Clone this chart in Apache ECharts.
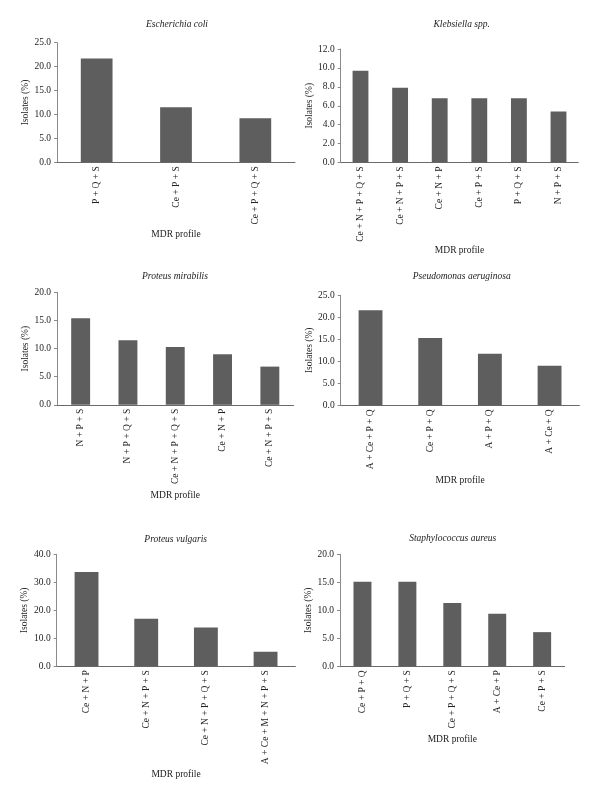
<!DOCTYPE html>
<html>
<head>
<meta charset="utf-8">
<script src="https://cdn.jsdelivr.net/npm/echarts@6/dist/echarts.min.js"></script>
<style>html,body{margin:0;padding:0;background:#fff}#c{width:600px;height:801px}</style>
</head>
<body>
<div id="c"></div>
<script>
// ---- data ----
const titles = ["Escherichia coli", "Klebsiella spp.", "Proteus mirabilis", "Pseudomonas aeruginosa", "Proteus vulgaris", "Staphylococcus aureus"];
const catsEcoli = ["P + Q + S", "Ce + P + S", "Ce + P + Q + S"];
const valsEcoli = [21.7, 11.5, 9.2];
const catsKleb = ["Ce + N + P + Q + S", "Ce + N + P + S", "Ce + N + P", "Ce + P + S", "P + Q + S", "N + P + S"];
const valsKleb = [9.7, 7.9, 6.8, 6.8, 6.8, 5.4];
const catsPmir = ["N + P + S", "N + P + Q + S", "Ce + N + P + Q + S", "Ce + N + P", "Ce + N + P + S"];
const valsPmir = [15.4, 11.5, 10.3, 9.0, 6.8];
const catsPaer = ["A + Ce + P + Q", "Ce + P + Q", "A + P + Q", "A + Ce + Q"];
const valsPaer = [21.6, 15.3, 11.7, 9.0];
const catsPvul = ["Ce + N + P", "Ce + N + P + S", "Ce + N + P + Q + S", "A + Ce + M + N + P + S"];
const valsPvul = [33.7, 17.0, 13.9, 5.2];
const catsSaur = ["Ce + P + Q", "P + Q + S", "Ce + P + Q + S", "A + Ce + P", "Ce + P + S"];
const valsSaur = [15.1, 15.1, 11.3, 9.4, 6.1];
const yMax = [25, 12, 20, 25, 40, 20];
const yStep = [5, 2, 5, 5, 10, 5];
const xName = "MDR profile";
const yName = "Isolates (%)";

// ---- layout ----
const panels = [
  {cats: catsEcoli, vals: valsEcoli, grid: {left: 57, top: 42.7, width: 238, height: 119.6}, title: [177, 19], xGap: 67, yGap: 27},
  {cats: catsKleb, vals: valsKleb, grid: {left: 340.7, top: 49, width: 237.6, height: 113.5}, title: [461.7, 19], xGap: 83, yGap: 24},
  {cats: catsPmir, vals: valsPmir, grid: {left: 57, top: 292.5, width: 236.5, height: 112.3}, title: [175, 271.5], xGap: 86, yGap: 27},
  {cats: catsPaer, vals: valsPaer, grid: {left: 340.7, top: 295.3, width: 238.7, height: 110}, title: [461.7, 271.5], xGap: 70.5, yGap: 24},
  {cats: catsPvul, vals: valsPvul, grid: {left: 56.7, top: 554.3, width: 238.7, height: 112}, title: [175.7, 534], xGap: 103, yGap: 27},
  {cats: catsSaur, vals: valsSaur, grid: {left: 340, top: 554.3, width: 224.6, height: 112}, title: [452.7, 533.5], xGap: 68, yGap: 25}
];

const FONT = "'Liberation Serif', 'DejaVu Serif', serif";
const TXT = '#222';
const option = {
  backgroundColor: '#fff',
  animation: false,
  title: panels.map((p, i) => ({
    text: titles[i], left: p.title[0], top: p.title[1], textAlign: 'center', padding: 0,
    textStyle: {fontFamily: FONT, fontStyle: 'italic', fontWeight: 'normal', fontSize: 9.5, color: TXT}
  })),
  grid: panels.map(p => Object.assign({containLabel: false}, p.grid)),
  xAxis: panels.map((p, i) => ({
    type: 'category', gridIndex: i, data: p.cats,
    name: xName, nameLocation: 'middle', nameGap: p.xGap,
    nameTextStyle: {fontFamily: FONT, fontSize: 9.5, color: TXT},
    axisLine: {lineStyle: {color: '#6a6a6a', width: 1}},
    axisTick: {show: false},
    axisLabel: {rotate: 90, margin: 4, interval: 0, fontFamily: FONT, fontSize: 9.5, color: TXT}
  })),
  yAxis: panels.map((p, i) => ({
    type: 'value', gridIndex: i, min: 0, max: yMax[i], interval: yStep[i],
    name: yName, nameLocation: 'middle', nameGap: p.yGap, nameRotate: 90,
    nameTextStyle: {fontFamily: FONT, fontSize: 9.5, color: TXT},
    axisLine: {show: true, lineStyle: {color: '#8a8a8a', width: 1}},
    axisTick: {show: true, length: 3, lineStyle: {color: '#8a8a8a'}},
    splitLine: {show: false},
    axisLabel: {margin: 6, fontFamily: FONT, fontSize: 9.5, color: TXT, formatter: v => v.toFixed(1)}
  })),
  series: panels.map((p, i) => ({
    type: 'bar', xAxisIndex: i, yAxisIndex: i, data: p.vals,
    barWidth: '40%', itemStyle: {color: '#5e5e5e'}
  }))
};
echarts.init(document.getElementById('c'), null, {renderer: 'canvas'}).setOption(option);
</script>
</body>
</html>
